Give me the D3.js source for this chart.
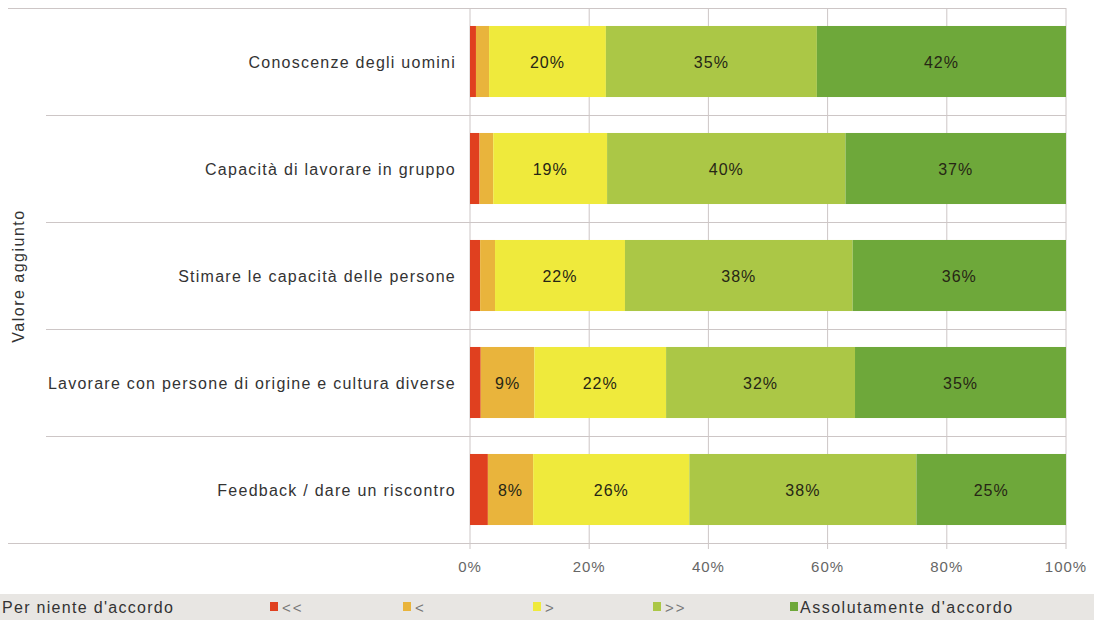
<!DOCTYPE html>
<html lang="it">
<head>
<meta charset="utf-8">
<script src="https://cdn.jsdelivr.net/npm/d3@7"></script>
<title>Valore aggiunto</title>
<style>
  body { margin: 0; background: #fff; }
  svg { display: block; font-family: "Liberation Sans", Arial, sans-serif; }
</style>
</head>
<body>
<script>
var w = 1094;
var h = 620;

// categories, top to bottom
var categories = [
    "Conoscenze degli uomini",
    "Capacità di lavorare in gruppo",
    "Stimare le capacità delle persone",
    "Lavorare con persone di origine e cultura diverse",
    "Feedback / dare un riscontro"
];

// series, one value per category (percent)
var seriesNames = ["<<", "<", ">", ">>", "Assolutamente d'accordo"];
var stronglyDisagree = [1.0, 1.6, 1.7, 1.8, 3.0];
var disagree         = [2.2, 2.3, 2.5, 9.0, 7.6];
var agree            = [19.6, 19.1, 21.8, 22.1, 26.2];
var moreAgree        = [35.4, 40.0, 38.2, 31.7, 38.1];
var stronglyAgree    = [41.8, 37.0, 35.8, 35.4, 25.1];

var xTicks = [0, 20, 40, 60, 80, 100];
var colors = ["#e0401f", "#e9b43c", "#efea3c", "#abc746", "#6ea83a"];

var allSeries = [stronglyDisagree, disagree, agree, moreAgree, stronglyAgree];
var rows = categories.map(function(c, i) {
    var r = { cat: c };
    seriesNames.forEach(function(s, j) { r[s] = allSeries[j][i]; });
    return r;
});
var stacked = d3.stack().keys(seriesNames)(rows);

var xScale = d3.scaleLinear().domain([0, 100]).range([470, 1066]);
var yScale = d3.scaleBand()
    .domain(categories)
    .range([8, 543])
    .paddingInner(0.336)
    .paddingOuter(0.168);

var svg = d3.select("body").append("svg")
    .attr("width", w)
    .attr("height", h);

var gridColor = "#cdc6c6";

// vertical gridlines at ticks
svg.selectAll("line.vgrid")
    .data(xTicks)
    .enter()
    .append("line")
    .attr("x1", function(d) { return xScale(d); })
    .attr("x2", function(d) { return xScale(d); })
    .attr("y1", 8)
    .attr("y2", 549)
    .attr("stroke", gridColor)
    .attr("stroke-width", 1);

// horizontal separators between categories
var step = yScale.step();
var sepY = d3.range(categories.length + 1).map(function(i) { return 8 + i * step; });
svg.selectAll("line.hgrid")
    .data(sepY)
    .enter()
    .append("line")
    .attr("x1", function(d, i) { return (i === 0 || i === sepY.length - 1) ? 8 : 46; })
    .attr("x2", xScale(100))
    .attr("y1", function(d) { return Math.round(d) + 0.5; })
    .attr("y2", function(d) { return Math.round(d) + 0.5; })
    .attr("stroke", gridColor)
    .attr("stroke-width", 1.2);

// bars
var layers = svg.selectAll("g.layer")
    .data(stacked)
    .enter()
    .append("g")
    .attr("fill", function(d, i) { return colors[i]; });

layers.selectAll("rect")
    .data(function(d) { return d; })
    .enter()
    .append("rect")
    .attr("x", function(d) { return xScale(d[0]); })
    .attr("y", function(d) { return yScale(d.data.cat); })
    .attr("width", function(d) { return xScale(d[1]) - xScale(d[0]); })
    .attr("height", yScale.bandwidth());

// value labels (only segments large enough)
layers.selectAll("text")
    .data(function(d) { return d.filter(function(p) { return p[1] - p[0] >= 5; }); })
    .enter()
    .append("text")
    .attr("x", function(d) { return (xScale(d[0]) + xScale(d[1])) / 2; })
    .attr("y", function(d) { return yScale(d.data.cat) + yScale.bandwidth() / 2 + 6; })
    .attr("text-anchor", "middle")
    .attr("font-size", "16px")
    .attr("letter-spacing", "1px")
    .attr("fill", "#262615")
    .text(function(d) { return Math.round(d[1] - d[0]) + "%"; });

// category labels
svg.selectAll("text.cat")
    .data(categories)
    .enter()
    .append("text")
    .attr("x", 456)
    .attr("y", function(d) { return yScale(d) + yScale.bandwidth() / 2 + 6; })
    .attr("text-anchor", "end")
    .attr("font-size", "16px")
    .attr("letter-spacing", "1.25px")
    .attr("fill", "#333")
    .text(function(d) { return d; });

// x tick labels
svg.selectAll("text.tick")
    .data(xTicks)
    .enter()
    .append("text")
    .attr("x", function(d) { return xScale(d); })
    .attr("y", 572)
    .attr("text-anchor", "middle")
    .attr("font-size", "15px")
    .attr("letter-spacing", "1px")
    .attr("fill", "#666")
    .text(function(d) { return d + "%"; });

// y axis title
svg.append("text")
    .attr("transform", "translate(24,276) rotate(-90)")
    .attr("text-anchor", "middle")
    .attr("font-size", "16px")
    .attr("letter-spacing", "1.5px")
    .attr("fill", "#333")
    .text("Valore aggiunto");

// legend band
svg.append("rect")
    .attr("x", 0)
    .attr("y", 594)
    .attr("width", w)
    .attr("height", h - 594)
    .attr("fill", "#e8e6e3");

svg.append("text")
    .attr("x", 2)
    .attr("y", 613)
    .attr("font-size", "16px")
    .attr("letter-spacing", "1.3px")
    .attr("fill", "#333")
    .text("Per niente d'accordo");

var legendX = [270, 403, 533, 653, 790];
var legend = svg.selectAll("g.legend")
    .data(seriesNames)
    .enter()
    .append("g")
    .attr("transform", function(d, i) { return "translate(" + legendX[i] + ",602)"; });

legend.append("rect")
    .attr("width", 8)
    .attr("height", 9)
    .attr("fill", function(d, i) { return colors[i]; });

legend.append("text")
    .attr("x", function(d, i) { return i === 4 ? 10 : 12; })
    .attr("y", 11)
    .attr("font-size", function(d, i) { return i === 4 ? "16px" : "15px"; })
    .attr("letter-spacing", function(d, i) { return i === 4 ? "1.5px" : "2px"; })
    .attr("fill", function(d, i) { return i === 4 ? "#333" : "#777"; })
    .text(function(d) { return d; });
</script>
</body>
</html>
